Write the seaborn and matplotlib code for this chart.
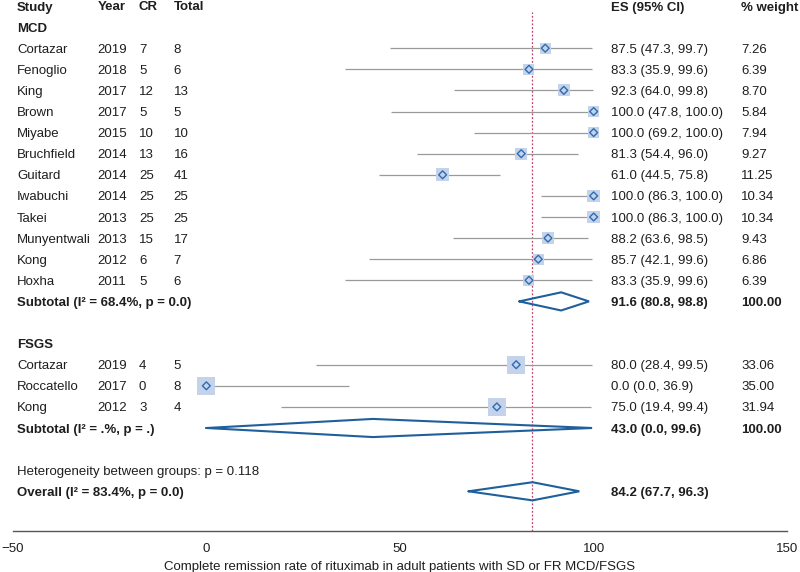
import numpy as np
import pandas as pd
import seaborn as sns
import matplotlib.pyplot as plt

# data
study_mcd = ['Cortazar', 'Fenoglio', 'King', 'Brown', 'Miyabe', 'Bruchfield', 'Guitard',
             'Iwabuchi', 'Takei', 'Munyentwali', 'Kong', 'Hoxha']
year_mcd = [2019, 2018, 2017, 2017, 2015, 2014, 2014, 2014, 2013, 2013, 2012, 2011]
cr_mcd = [7, 5, 12, 5, 10, 13, 25, 25, 25, 15, 6, 5]
total_mcd = [8, 6, 13, 5, 10, 16, 41, 25, 25, 17, 7, 6]
es_mcd = [87.5, 83.3, 92.3, 100.0, 100.0, 81.3, 61.0, 100.0, 100.0, 88.2, 85.7, 83.3]
lo_mcd = [47.3, 35.9, 64.0, 47.8, 69.2, 54.4, 44.5, 86.3, 86.3, 63.6, 42.1, 35.9]
hi_mcd = [99.7, 99.6, 99.8, 100.0, 100.0, 96.0, 75.8, 100.0, 100.0, 98.5, 99.6, 99.6]
wt_mcd = [7.26, 6.39, 8.70, 5.84, 7.94, 9.27, 11.25, 10.34, 10.34, 9.43, 6.86, 6.39]

study_fsgs = ['Cortazar', 'Roccatello', 'Kong']
year_fsgs = [2019, 2017, 2012]
cr_fsgs = [4, 0, 3]
total_fsgs = [5, 8, 4]
es_fsgs = [80.0, 0.0, 75.0]
lo_fsgs = [28.4, 0.0, 19.4]
hi_fsgs = [99.5, 36.9, 99.4]
wt_fsgs = [33.06, 35.00, 31.94]

sub_label = ['Subtotal (I\u00b2 = 68.4%, p = 0.0)', 'Subtotal (I\u00b2 = .%, p = .)']
sub_es = [91.6, 43.0]
sub_lo = [80.8, 0.0]
sub_hi = [98.8, 99.6]

overall_label = 'Overall (I\u00b2 = 83.4%, p = 0.0)'
overall_es, overall_lo, overall_hi = 84.2, 67.7, 96.3
het_text = 'Heterogeneity between groups: p = 0.118'
xlabel = 'Complete remission rate of rituximab in adult patients with SD or FR MCD/FSGS'

sns.set_style('white')
plt.rcParams['font.family'] = ['Liberation Sans', 'DejaVu Sans']
txt_color = '#1e1e1e'
fs = 9.5

# rows: header 0, MCD 1, studies 2-13, subtotal 14, FSGS 16, studies 17-19, subtotal 20
rows_mcd = list(range(2, 2 + len(study_mcd)))
rows_fsgs = list(range(17, 17 + len(study_fsgs)))
sub_rows = [14, 20]

df = pd.DataFrame({
    'study': study_mcd + study_fsgs,
    'year': year_mcd + year_fsgs,
    'cr': cr_mcd + cr_fsgs,
    'total': total_mcd + total_fsgs,
    'es': es_mcd + es_fsgs,
    'lo': lo_mcd + lo_fsgs,
    'hi': hi_mcd + hi_fsgs,
    'wt': wt_mcd + wt_fsgs,
    'row': rows_mcd + rows_fsgs,
})

fig = plt.figure(figsize=(8, 5.72), dpi=100)
ax = fig.add_axes([0, 41 / 572, 1, 531 / 572])

# reference line at overall estimate
ax.axvline(overall_es, ymin=0, ymax=0.977, color='#c2416b', lw=0.9, ls=(0, (1.5, 1.5)), zorder=1)

# confidence intervals
ax.hlines(df['row'], df['lo'], df['hi'], color='#9a9a9a', lw=0.9, zorder=2)

# weight boxes
side_px = 6.4 * df['wt'] ** 0.29
sns.scatterplot(data=df, x='es', y='row', marker='s', s=(side_px * 0.72) ** 2,
                color='#c4d3ea', edgecolor='none', ax=ax, zorder=3, legend=False)
sns.scatterplot(data=df, x='es', y='row', marker='D', s=16, facecolor='none',
                edgecolor='#2d6cb2', linewidth=1.0, ax=ax, zorder=4, legend=False)

# pooled diamonds
def diamond(es, lo, hi, row, h=0.43):
    ax.plot([lo, es, hi, es, lo], [row, row - h, row, row + h, row],
            color='#1f5f9c', lw=1.5, zorder=5, solid_joinstyle='miter')

for e, l, h, r in zip(sub_es, sub_lo, sub_hi, sub_rows):
    diamond(e, l, h, r)
diamond(overall_es, overall_lo, overall_hi, 23)

# text columns
x_study, x_year, x_cr, x_total, x_es, x_wt = -48.9, -28.1, -17.4, -8.4, 104.6, 138.1
kw = dict(va='center_baseline', ha='left', fontsize=fs, color=txt_color)
for x, t in zip([x_study, x_year, x_cr, x_total, x_es, x_wt],
                ['Study', 'Year', 'CR', 'Total', 'ES (95% CI)', '% weight']):
    ax.text(x, 0, t, fontweight='bold', **kw)
ax.text(x_study, 1, 'MCD', fontweight='bold', **kw)
ax.text(x_study, 16, 'FSGS', fontweight='bold', **kw)

for _, r in df.iterrows():
    ax.text(x_study, r['row'], r['study'], **kw)
    ax.text(x_year, r['row'], str(int(r['year'])), **kw)
    ax.text(x_cr, r['row'], str(int(r['cr'])), **kw)
    ax.text(x_total, r['row'], str(int(r['total'])), **kw)
    ax.text(x_es, r['row'], f"{r['es']:.1f} ({r['lo']:.1f}, {r['hi']:.1f})", **kw)
    ax.text(x_wt, r['row'], f"{r['wt']:.2f}", **kw)

for lab, e, l, h, r in zip(sub_label, sub_es, sub_lo, sub_hi, sub_rows):
    ax.text(x_study, r, lab, fontweight='bold', **kw)
    ax.text(x_es, r, f"{e:.1f} ({l:.1f}, {h:.1f})", fontweight='bold', **kw)
    ax.text(x_wt, r, '100.00', fontweight='bold', **kw)

ax.text(x_study, 22, het_text, **kw)
ax.text(x_study, 23, overall_label, fontweight='bold', **kw)
ax.text(x_es, 23, f"{overall_es:.1f} ({overall_lo:.1f}, {overall_hi:.1f})", fontweight='bold', **kw)

# axes styling
ax.set_xlim(-50 - 12.7 / 3.876, 150 + 12.7 / 3.876)
ax.set_ylim(525 / 21.1, -6 / 21.1)
ax.set_yticks([])
ax.set_ylabel('')
ax.set_xticks([-50, 0, 50, 100, 150])
ax.set_xticklabels(['\u221250', '0', '50', '100', '150'])
for s in ['left', 'right', 'top']:
    ax.spines[s].set_visible(False)
ax.spines['bottom'].set_bounds(-50, 150)
ax.spines['bottom'].set_color('#555555')
ax.spines['bottom'].set_linewidth(1.0)
ax.tick_params(axis='x', direction='in', length=4, width=1, color='#555555',
               labelsize=fs, labelcolor=txt_color, pad=9)
ax.set_xlabel(xlabel, fontsize=fs, color=txt_color, labelpad=4)
ax.patch.set_alpha(0)

fig.savefig('out.png', dpi=100)
